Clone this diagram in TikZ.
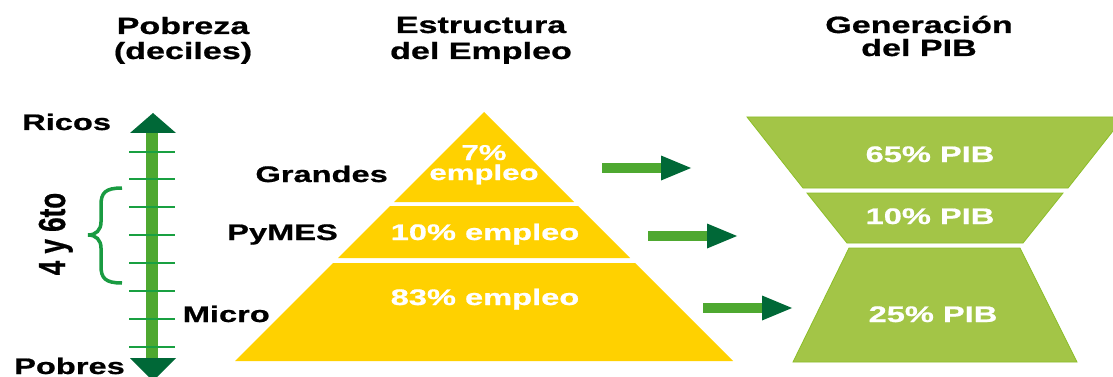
\documentclass[tikz,border=0pt]{standalone}
\usepackage{fontspec}
\setmainfont[FakeStretch=1.45, BoldFeatures={FakeBold=0.8}]{Liberation Sans}
\newfontfamily\plainsans[BoldFeatures={FakeBold=0.8}]{Liberation Sans}
\definecolor{pyryellow}{RGB}{255,209,0}
\definecolor{pibgreen}{RGB}{163,197,71}
\definecolor{pibedge}{RGB}{140,190,40}
\definecolor{shaftgreen}{RGB}{78,168,48}
\definecolor{headgreen}{RGB}{0,104,55}
\definecolor{tickgreen}{RGB}{25,160,65}
\definecolor{bracegreen}{RGB}{25,155,65}
\begin{document}
\begin{tikzpicture}[x=1pt,y=-1pt,
  title/.style={inner sep=0pt, anchor=base, font=\bfseries\fontsize{23.5}{25}\selectfont, text=black},
  lbl/.style={inner sep=0pt, font=\bfseries\fontsize{22.5}{25}\selectfont, text=black},
  wlbl/.style={inner sep=0pt, anchor=base, font=\bfseries\fontsize{22.5}{24}\selectfont, text=white},
  tickline/.style={draw=tickgreen, line width=2.7pt},
  layer/.style={fill=pyryellow},
  pibshape/.style={fill=pibgreen, draw=pibedge, line width=0.8pt},
  grarrow/.pic={
    \fill[shaftgreen] (0,-5) rectangle (60,5);
    \fill[headgreen] (59,-12.5) -- (89,0) -- (59,12.5) -- cycle;
  }]
\useasboundingbox (0,0) rectangle (1113,377);
\fill[white] (0,0) rectangle (1113,377);
\begin{scope}
\clip (0,0) rectangle (1113,377);

% titles
\node[title] (t1a) at (183,34) {Pobreza};
\node[title] (t1b) at (183,59) {(deciles)};
\node[title] (t2a) at (481,33) {Estructura};
\node[title] (t2b) at (481,59) {del Empleo};
\node[title] (t3a) at (919,33) {Generación};
\node[title] (t3b) at (919,56) {del PIB};

% poverty scale
\fill[shaftgreen] (146,130) rectangle (158,360);
\fill[headgreen] (130,133) -- (153,113) -- (176,133) -- cycle;
\fill[headgreen] (130,358) -- (153,381) -- (176,358) -- cycle;
\foreach \yy in {152,179,207,235,263,291,319,347}
  \draw[tickline] (129,\yy) -- (175,\yy);
\draw[bracegreen, line width=3.5pt]
  (122,188) .. controls (105,188) and (101,193) .. (101,205) -- (101,222)
  .. controls (101,230) and (96,235) .. (88,235)
  .. controls (96,235) and (101,240) .. (101,248) -- (101,266)
  .. controls (101,278) and (105,283) .. (122,283);
\node[lbl, anchor=base west] (ricos) at (22,130) {Ricos};
\node[lbl, anchor=base west] (pobres) at (14,374) {Pobres};
\node[inner sep=0pt, anchor=base, rotate=90, text=black] (cuarto) at (65,234)
  {\scalebox{1}[1.45]{\plainsans\bfseries\fontsize{26}{28}\selectfont 4 y 6to}};

% pyramid
\fill[layer] (484,112) -- (574,202) -- (394,202) -- cycle;
\fill[layer] (390,206) -- (578,206) -- (630,258) -- (338,258) -- cycle;
\fill[layer] (333,263) -- (635,263) -- (733,361) -- (235,361) -- cycle;
\node[wlbl, font=\bfseries\fontsize{21.5}{24}\selectfont] (p1a) at (484,160) {7\%};
\node[wlbl, font=\bfseries\fontsize{21.5}{24}\selectfont] (p1b) at (484,180) {empleo};
\node[wlbl] (p2) at (485,240) {10\% empleo};
\node[wlbl] (p3) at (485,305) {83\% empleo};
\node[lbl, anchor=base east] (grandes) at (388,182) {Grandes};
\node[lbl, anchor=base east] (pymes) at (338,240) {PyMES};
\node[lbl, anchor=base east] (micro) at (270,322) {Micro};

% arrows
\pic at (602,168) {grarrow};
\pic at (648,236) {grarrow};
\pic at (703,308) {grarrow};

% PIB shapes
\filldraw[pibshape] (747,117) -- (1124,117) -- (1068,188) -- (803,188) -- cycle;
\filldraw[pibshape] (807,193) -- (1063,193) -- (1023,243) -- (847,243) -- cycle;
\filldraw[pibshape] (849,248) -- (1020,248) -- (1077,362) -- (793,362) -- cycle;
\node[wlbl] (g1) at (930,162) {65\% PIB};
\node[wlbl] (g2) at (930,224) {10\% PIB};
\node[wlbl] (g3) at (933,322) {25\% PIB};
\end{scope}
\end{tikzpicture}
\end{document}
